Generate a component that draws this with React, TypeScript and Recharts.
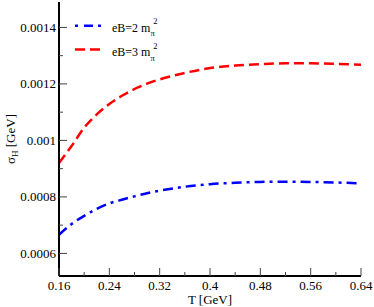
import { LineChart, Line, XAxis, YAxis, Legend, Label } from "recharts";

// temperature grid (GeV) and Hall conductivity (GeV)
const temps = [0.16, 0.18, 0.2, 0.22, 0.24, 0.26, 0.28, 0.3, 0.32, 0.36, 0.4, 0.44, 0.48, 0.52, 0.56, 0.6, 0.64];
const sigmaEB2 = [0.000666, 0.000704, 0.000733, 0.000758, 0.000777, 0.00079, 0.000802, 0.000813, 0.000822, 0.000836, 0.000845, 0.00085, 0.000853, 0.000854, 0.000853, 0.000851, 0.000848];
const sigmaEB3 = [0.00092, 0.00098, 0.001045, 0.001092, 0.001129, 0.001158, 0.001182, 0.001201, 0.001216, 0.001239, 0.001256, 0.001265, 0.00127, 0.001273, 0.001273, 0.001271, 0.001268];

const xTicks = [0.16, 0.2, 0.24, 0.28, 0.32, 0.36, 0.4, 0.44, 0.48, 0.52, 0.56, 0.6, 0.64];
const xLabels = ["0.16", "", "0.24", "", "0.32", "", "0.4", "", "0.48", "", "0.56", "", "0.64"];
const yTicks = [0.0006, 0.0007, 0.0008, 0.0009, 0.001, 0.0011, 0.0012, 0.0013, 0.0014];
const yLabels = ["0.0006", "", "0.0008", "", "0.001", "", "0.0012", "", "0.0014"];

const data = temps.map((t, i) => ({ t, eb2: sigmaEB2[i], eb3: sigmaEB3[i] }));

const FONT = "Liberation Serif";
const TICK = "#444";

const idx = (arr: number[], v: number) => arr.findIndex((a) => Math.abs(a - v) < 1e-9);

function BottomTick({ x, y, payload }: any) {
  const i = idx(xTicks, payload.value);
  const major = xLabels[i] !== "";
  return (
    <g>
      <line x1={x} x2={x} y1={y} y2={y - (major ? 8 : 4)} stroke={TICK} />
      {major && (
        <text x={x} y={y + 14} textAnchor="middle" fontSize={13} fontFamily={FONT} fill="#000">
          {xLabels[i]}
        </text>
      )}
    </g>
  );
}

function TopTick({ x, y, payload }: any) {
  const major = xLabels[idx(xTicks, payload.value)] !== "";
  return <line x1={x} x2={x} y1={y} y2={y + (major ? 8 : 4)} stroke={TICK} />;
}

function LeftTick({ x, y, payload }: any) {
  const i = idx(yTicks, payload.value);
  const major = yLabels[i] !== "";
  return (
    <g>
      <line x1={x} x2={x + (major ? 8 : 4)} y1={y} y2={y} stroke={TICK} />
      {major && (
        <text x={x - 3} y={y + 4.5} textAnchor="end" fontSize={13} fontFamily={FONT} fill="#000">
          {yLabels[i]}
        </text>
      )}
    </g>
  );
}

function RightTick({ x, y, payload }: any) {
  const major = yLabels[idx(yTicks, payload.value)] !== "";
  return <line x1={x} x2={x - (major ? 8 : 4)} y1={y} y2={y} stroke={TICK} />;
}

function YTitle({ viewBox }: any) {
  const cx = 15;
  const cy = viewBox.y + viewBox.height / 2;
  return (
    <text
      x={cx}
      y={cy}
      transform={`rotate(-90 ${cx} ${cy})`}
      textAnchor="middle"
      fontSize={13}
      fontFamily={FONT}
      fill="#000"
    >
      σ<tspan fontSize={9} dy={3}>H</tspan>
      <tspan dy={-3}> [GeV]</tspan>
    </text>
  );
}

function LegendBox() {
  const rows = [
    { label: "eB=2 m", color: "#0000ff", dash: "3 6 9 5", y: 15.7, base: 21.5 },
    { label: "eB=3 m", color: "#ff0000", dash: "10 5", y: 39.5, base: 46 },
  ];
  return (
    <svg width={110} height={52}>
      {rows.map((r) => (
        <g key={r.label}>
          <line x1={5} x2={32} y1={r.y} y2={r.y} stroke={r.color} strokeWidth={2.5} strokeDasharray={r.dash} />
          <text x={42} y={r.base} fontSize={12} fontFamily={FONT} fill="#000">
            {r.label}
            <tspan fontSize={8.5} dy={4.5}>π</tspan>
            <tspan fontSize={8.5} dx={-1.5} dy={-12}>2</tspan>
          </text>
        </g>
      ))}
    </svg>
  );
}

export default function App() {
  return (
    <div style={{ position: "absolute", left: 0, top: 0 }}>
      <LineChart width={374} height={307} data={data} margin={{ top: 2, right: 13, bottom: 0, left: 0 }}>
        <XAxis
          dataKey="t"
          type="number"
          domain={[0.16, 0.64]}
          ticks={xTicks}
          interval={0}
          height={31}
          tickSize={0}
          tickMargin={0}
          tickLine={false}
          tick={<BottomTick />}
          axisLine={{ stroke: "#000", strokeWidth: 2 }}
          allowDataOverflow
        >
          <Label
            content={({ viewBox }: any) => (
              <text
                x={viewBox.x + viewBox.width / 2}
                y={viewBox.y + 28}
                textAnchor="middle"
                fontSize={13}
                fontFamily={FONT}
                fill="#000"
              >
                T [GeV]
              </text>
            )}
          />
        </XAxis>
        <XAxis
          xAxisId="top"
          orientation="top"
          dataKey="t"
          type="number"
          domain={[0.16, 0.64]}
          ticks={xTicks}
          interval={0}
          height={0}
          tickSize={0}
          tickMargin={0}
          tickLine={false}
          tick={<TopTick />}
          axisLine={{ stroke: "#000", strokeWidth: 2 }}
          allowDataOverflow
        />
        <YAxis
          type="number"
          domain={[0.00052, 0.00149]}
          ticks={yTicks}
          interval={0}
          width={59}
          tickSize={0}
          tickMargin={0}
          tickLine={false}
          tick={<LeftTick />}
          axisLine={{ stroke: "#000", strokeWidth: 2 }}
          allowDataOverflow
        >
          <Label content={<YTitle />} />
        </YAxis>
        <YAxis
          yAxisId="right"
          orientation="right"
          type="number"
          domain={[0.00052, 0.00149]}
          ticks={yTicks}
          interval={0}
          width={0}
          tickSize={0}
          tickMargin={0}
          tickLine={false}
          tick={<RightTick />}
          axisLine={{ stroke: "#000", strokeWidth: 2 }}
          allowDataOverflow
        />
        <Legend
          layout="vertical"
          align="center"
          verticalAlign="middle"
          content={() => <LegendBox />}
          wrapperStyle={{ left: 70, top: 10, width: 110, height: 52 }}
        />
        <Line
          type="monotone"
          dataKey="eb2"
          stroke="#0000ff"
          strokeWidth={2.5}
          strokeDasharray="10 5 3 5"
          dot={false}
          activeDot={false}
          isAnimationActive={false}
        />
        <Line
          type="monotone"
          dataKey="eb3"
          stroke="#ff0000"
          strokeWidth={2.5}
          strokeDasharray="10 5"
          dot={false}
          activeDot={false}
          isAnimationActive={false}
        />
        <Line
          xAxisId="top"
          yAxisId="right"
          dataKey="eb3"
          stroke="none"
          dot={false}
          activeDot={false}
          legendType="none"
          isAnimationActive={false}
        />
      </LineChart>
    </div>
  );
}
